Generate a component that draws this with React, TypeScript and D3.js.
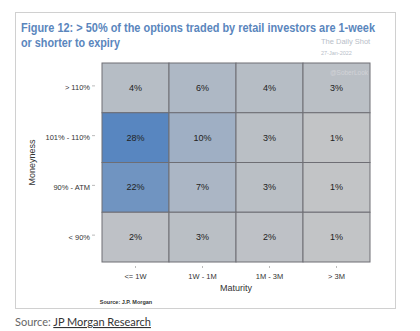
import React from "react";
import * as d3 from "d3";

const maturities = ["<= 1W", "1W - 1M", "1M - 3M", "> 3M"];
const moneyness = ["> 110%", "101% - 110%", "90% - ATM", "< 90%"];
// values[row][col], rows = moneyness, cols = maturity
const values = [
  [4, 6, 4, 3],
  [28, 10, 3, 1],
  [22, 7, 3, 1],
  [2, 3, 2, 1],
];
const titleLines = [
  "Figure 12: > 50% of the options traded by retail investors are 1-week",
  "or shorter to expiry",
];

export default function App() {
  const W = 420, H = 331;
  const gx0 = 102, gx1 = 370, gy0 = 63, gy1 = 262;
  const x = d3.scaleBand().domain(maturities).range([gx0, gx1]);
  const y = d3.scaleBand().domain(moneyness).range([gy0, gy1]);
  const color = d3
    .scaleLinear<string>()
    .domain([0, 28])
    .range(["#c6c6c6", "#5886c0"])
    .interpolate(d3.interpolateRgb);
  const font = "'Liberation Sans', Arial, sans-serif";

  return (
    <svg
      width={W}
      height={H}
      style={{ position: "absolute", left: 0, top: 0, background: "#fff" }}
      fontFamily={font}
    >
      <rect x={15.5} y={12.5} width={380} height={296} fill="#fff" stroke="#d0d0d0" />
      <text x={21} y={32} fontSize={12} fontWeight="bold" fill="#5a86bd" textLength={354} lengthAdjust="spacingAndGlyphs">
        {titleLines[0]}
      </text>
      <text x={21} y={47} fontSize={12} fontWeight="bold" fill="#5a86bd" textLength={99} lengthAdjust="spacingAndGlyphs">
        {titleLines[1]}
      </text>
      <text x={321} y={44} fontSize={7.5} fill="#b8bec8">The Daily Shot</text>
      <text x={321} y={55} fontSize={5.5} fill="#b8bec8">27-Jan-2022</text>

      {values.map((row, ri) =>
        row.map((v, ci) => (
          <g key={`${ri}-${ci}`}>
            <rect
              x={x(maturities[ci])}
              y={y(moneyness[ri])}
              width={x.bandwidth()}
              height={y.bandwidth()}
              fill={color(v)}
              stroke="#6e6e74"
              strokeWidth={1}
            />
            <text
              x={(x(maturities[ci]) as number) + x.bandwidth() / 2}
              y={(y(moneyness[ri]) as number) + y.bandwidth() / 2 + 3}
              textAnchor="middle"
              fontSize={9}
              fill="#222"
            >
              {v}%
            </text>
          </g>
        ))
      )}
      <text x={368} y={75} textAnchor="end" fontSize={6.5} fill="#d2d3d8">@SoberLook</text>

      {moneyness.map((m) => {
        const cy = (y(m) as number) + y.bandwidth() / 2;
        return (
          <g key={m}>
            <text x={90} y={cy + 2.5} textAnchor="end" fontSize={7.5} fill="#333">{m}</text>
            <line x1={92} x2={95} y1={cy - 2} y2={cy - 2} stroke="#aaa" strokeWidth={0.8} />
          </g>
        );
      })}
      {maturities.map((m) => {
        const cx = (x(m) as number) + x.bandwidth() / 2;
        return (
          <g key={m}>
            <line x1={cx} x2={cx} y1={266} y2={268} stroke="#aaa" strokeWidth={0.8} />
            <text x={cx} y={279} textAnchor="middle" fontSize={7.5} fill="#333">{m}</text>
          </g>
        );
      })}
      <text x={(gx0 + gx1) / 2} y={291} textAnchor="middle" fontSize={9} fill="#333">Maturity</text>
      <text
        transform={`translate(35,${(gy0 + gy1) / 2}) rotate(-90)`}
        textAnchor="middle"
        fontSize={9}
        fill="#333"
      >
        Moneyness
      </text>
      <text x={126} y={304} textAnchor="middle" fontSize={5.5} fontWeight="bold" fill="#333">
        Source: J.P. Morgan
      </text>

      <text x={15} y={326} fontSize={11} fontFamily="Lato, 'Open Sans', sans-serif" fill="#666">
        Source:{" "}
        <tspan fill="#333" style={{ textDecoration: "underline" }}>
          JP Morgan Research
        </tspan>
      </text>
    </svg>
  );
}
